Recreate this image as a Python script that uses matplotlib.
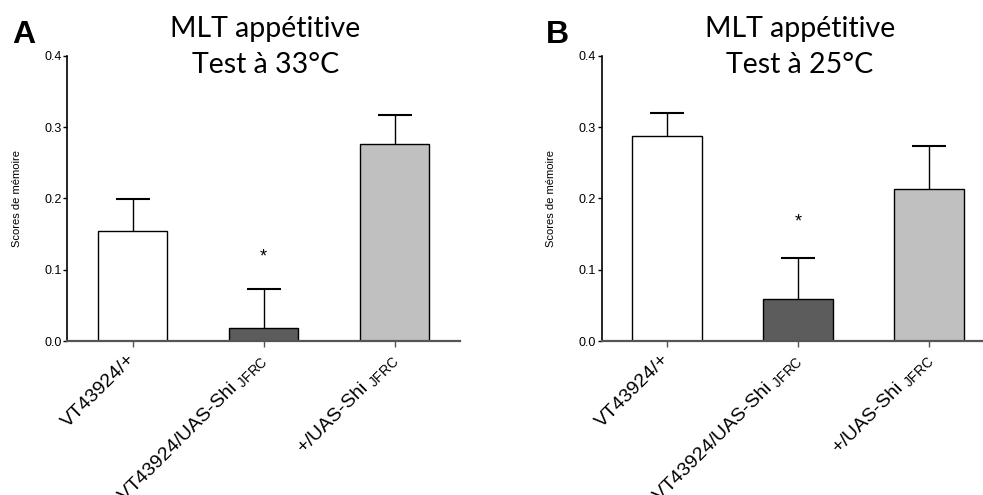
import matplotlib
matplotlib.use('Agg')
import matplotlib.pyplot as plt

# Données (scores de mémoire, moyenne + SEM)
genotypes = ['VT43924/+', 'VT43924/UAS-Shi$\\ _{\\mathrm{JFRC}}$', '+/UAS-Shi$\\ _{\\mathrm{JFRC}}$']
couleurs = ['#ffffff', '#5c5c5c', '#c0c0c0']

scores_33 = [0.155, 0.019, 0.276]
sem_33 = [0.044, 0.054, 0.041]
etoile_33 = 0.118

scores_25 = [0.287, 0.059, 0.213]
sem_25 = [0.033, 0.058, 0.060]
etoile_25 = 0.167

plt.rcParams['font.family'] = ['Liberation Sans', 'DejaVu Sans']
plt.rcParams['mathtext.fontset'] = 'custom'
plt.rcParams['mathtext.rm'] = 'Liberation Sans'
plt.rcParams['mathtext.it'] = 'Liberation Sans'


def tracer_panneau(fig, position, scores, sem, y_etoile, lettre, titre1, titre2):
    """Dessine un panneau (barres + erreur vers le haut + étoile)."""
    ax = fig.add_axes(position)
    x = list(range(len(scores)))
    hauts = [s + e for s, e in zip(scores, sem)]

    # barres d'erreur (vers le haut seulement), derrière les barres
    ax.vlines(x, scores, hauts, color='black', linewidth=1.0, zorder=1)
    ax.hlines(hauts, [i - 0.13 for i in x], [i + 0.13 for i in x],
              color='black', linewidth=1.5, zorder=1)
    ax.bar(x, scores, width=0.53, color=couleurs, edgecolor='black', linewidth=1.0, zorder=2)
    ax.text(1, y_etoile, '*', ha='center', va='center', fontsize=13)

    ax.set_xlim(-0.5, 2.5)
    ax.set_ylim(0, 0.4)
    ax.set_yticks([0.0, 0.1, 0.2, 0.3, 0.4])
    ax.set_yticklabels(['0.0', '0.1', '0.2', '0.3', '0.4'], fontsize=9)
    ax.set_xticks(x)
    ax.set_xticklabels(genotypes, fontsize=14, rotation=45, ha='right', va='center',
                       rotation_mode='anchor')
    ax.tick_params(axis='y', length=3, width=1, pad=1)
    ax.tick_params(axis='x', length=4, width=1, pad=7, color='#555555')
    ax.set_ylabel('Scores de mémoire', fontsize=8, labelpad=16)

    ax.spines['top'].set_visible(False)
    ax.spines['right'].set_visible(False)
    ax.spines['left'].set_linewidth(1.2)
    ax.spines['bottom'].set_linewidth(1.6)
    ax.spines['bottom'].set_color('#555555')

    # titre en deux lignes et lettre du panneau
    xc = position[0] + 0.2015
    fig.text(xc, 0.925, titre1, ha='center', va='baseline', fontsize=20.5, family='Lato')
    fig.text(xc, 0.8525, titre2, ha='center', va='baseline', fontsize=20.5, family='Lato')
    fig.text(position[0] - 0.0565, 0.93, lettre, ha='left', va='center',
             fontsize=23, fontweight='bold')
    return ax


fig = plt.figure(figsize=(9.83, 4.95), dpi=100)

tracer_panneau(fig, [0.0685, 0.311, 0.3995, 0.576], scores_33, sem_33, etoile_33,
               'A', 'MLT appétitive', 'Test à 33°C')
tracer_panneau(fig, [0.612, 0.311, 0.3995, 0.576], scores_25, sem_25, etoile_25,
               'B', 'MLT appétitive', 'Test à 25°C')

plt.savefig('out.png', dpi=100)
